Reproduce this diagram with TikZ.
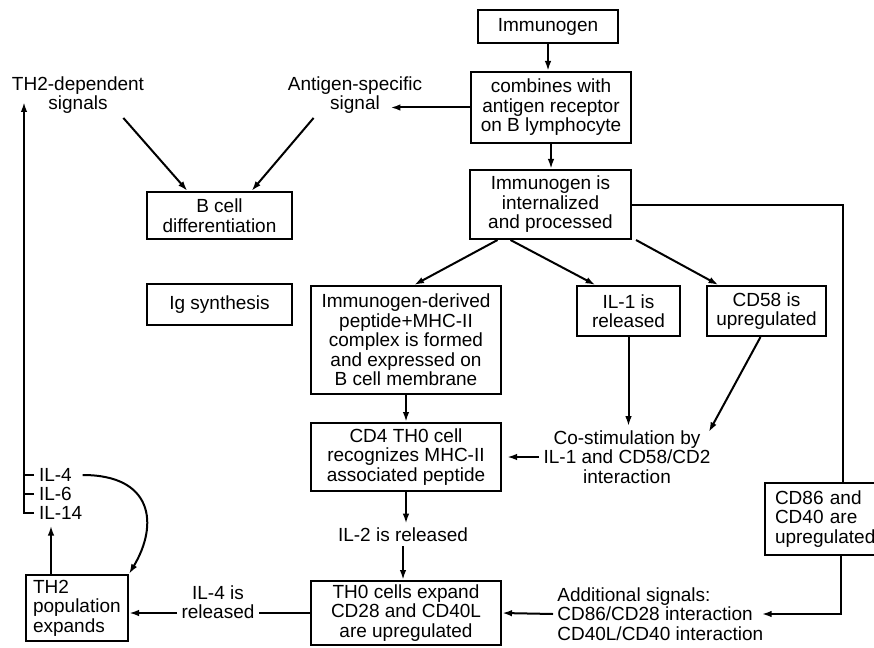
\documentclass[tikz,border=0pt]{standalone}
\usepackage{fontspec}
\setmainfont{Liberation Sans}
\usetikzlibrary{arrows.meta}
\tikzset{block/.style    = {rectangle, draw, align=center, inner sep=0pt},
	leftblock/.style = {rectangle, draw, align=left, inner ysep=0pt},
	freetext/.style  = {align=center},
	cyto/.style      = {anchor=west, inner xsep=4pt, inner ysep=5pt},
	line/.style      = {draw, -{Latex[length=10pt,width=6.5pt]}}
}

\begin{document}
\begin{tikzpicture}[x=1pt, y=-1pt, line width=2pt, font=\fontsize{19}{19.5}\selectfont]
		\useasboundingbox (0,0) rectangle (874,647);
		%% central column
		\node [block, minimum width=140pt, minimum height=33pt] (imm) at (548,26.5) {Immunogen};
		\node [block, minimum width=160pt, minimum height=71pt] (comb) at (551,107.5) {combines with\\antigen receptor\\on B lymphocyte};
		\node [block, minimum width=161pt, minimum height=69pt] (intern) at (550.5,204.5) {Immunogen is\\internalized\\and processed};
		\node [block, minimum width=190pt, minimum height=108pt] (pep) at (406,340) {Immunogen-derived\\peptide+MHC-II\\complex is formed\\and expressed on\\B cell membrane};
		\node [block, minimum width=103pt, minimum height=50pt] (il1) at (628.5,311) {IL-1 is\\released};
		\node [block, minimum width=119pt, minimum height=50pt] (cd58) at (766.5,311) {CD58 is\\upregulated};
		\node [block, minimum width=190pt, minimum height=68pt] (cd4) at (406,457) {CD4 TH0 cell\\recognizes MHC-II\\associated peptide};
		\node [freetext] (il2) at (403,535) {IL-2 is released};
		\node [block, minimum width=190pt, minimum height=64pt] (th0) at (406,613) {TH0 cells expand\\CD28 and CD40L\\are upregulated};
		\node [freetext] (costim) at (627,457) {Co-stimulation by\\IL-1 and CD58/CD2\\interaction};
		\node [leftblock, text width=100pt, inner xsep=10pt, minimum height=72pt, anchor=west] (cd86) at (764,519) {CD86 and\\CD40 are\\upregulated};
		\node [freetext, align=left, anchor=west] (addsig) at (553,614) {Additional signals:\\CD86/CD28 interaction\\CD40L/CD40 interaction};
		%% left side
		\node [block, minimum width=145pt, minimum height=47pt] (bdiff) at (219.5,215.5) {B cell\\differentiation};
		\node [block, minimum width=145pt, minimum height=41pt] (igsyn) at (219.5,304.5) {Ig synthesis};
		\node [freetext] (th2sig) at (78,95) {TH2-dependent\\signals};
		\node [freetext] (agsig) at (355,95) {Antigen-specific\\signal};
		\node [freetext] (il4rel) at (218,602) {IL-4 is\\released};
		\node [leftblock, text width=88pt, inner xsep=7pt, minimum height=66pt] (th2) at (77,608) {TH2\\population\\expands};
		\node [cyto] (il4) at (34,475) {IL-4};
		\node [cyto] (il6) at (34,494) {IL-6};
		\node [cyto] (il14) at (34,513) {IL-14};
		\path [line] (imm.south) -- (imm.south |- comb.north);
		\path [line] (comb.south) -- (comb.south |- intern.north);
		\path [line, shorten >=-36pt] (comb.west) -- (agsig.east |- comb.west);
		\path [line] ([xshift=-53pt]intern.south) -- ([xshift=8pt]pep.north);
		\path [line] ([xshift=-40pt]intern.south) -- ([xshift=-33pt]il1.north);
		\path [line] ([xshift=4pt]intern.south east) -- ([xshift=-48pt]cd58.north);
		\draw (intern.east) -| ([xshift=79pt]cd86.north west);
		\path [line] (pep.south) -- (pep.south |- cd4.north);
		\path [line] (cd4.south) -- (cd4.south |- il2.north);
		\path [line] (il2.south) -- (il2.south |- th0.north);
		\path [line] (il1.south) -- (il1.south |- costim.north);
		\path [line] ([xshift=-6pt]cd58.south) -- ([xshift=-6pt,yshift=-6pt]costim.north east);
		\path [line, shorten >=5pt] (costim.west) -- (cd4.east);
		\path [line] ([xshift=77pt]cd86.south west) |- ([xshift=-6pt]addsig.east);
		\path [line] (addsig.west) -- (th0.east);
		%% TH2 loop on the left
		\draw (th0.west) -- (th0.west -| il4rel.east);
		\path [line] (th0.west -| il4rel.west) -- (th0.west -| th2.east);
		\path [line] ([xshift=-26pt]th2.north) -- ([xshift=-26pt]th2.north |- il14.south);
		\draw (il4.west) -- ++(-10,0);
		\draw (il6.west) -- ++(-10,0);
		\path [line] (il14.west) -- ++(-10,0) -- ([xshift=-10pt,yshift=-7pt]il14.west |- th2sig.west);
		\path [line] ([xshift=6pt]il4.east) .. controls +(70,0) and +(30,-50) .. (th2.north east);
		\path [line] ([xshift=-25pt]th2sig.south east) -- ([xshift=-32pt]bdiff.north);
		\path [line] ([xshift=30pt]agsig.south west) -- ([xshift=32pt]bdiff.north);
	\end{tikzpicture}
\end{document}
